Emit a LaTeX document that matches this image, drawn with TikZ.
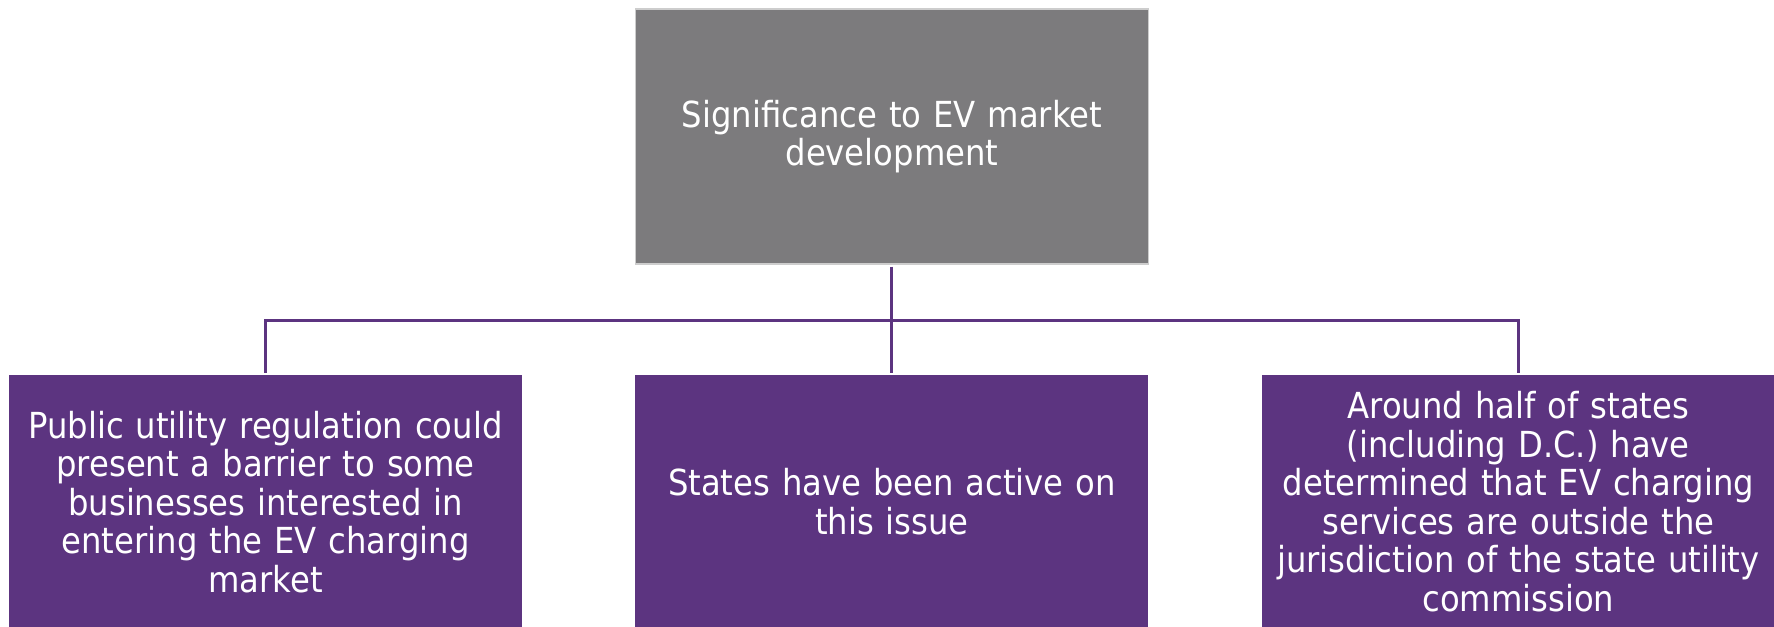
\documentclass[tikz,border=0pt]{standalone}
\usepackage{fontspec}
\setmainfont{DejaVu Sans Condensed}
\usepackage{tikz}
\usetikzlibrary{positioning, calc}
\definecolor{evpurple}{RGB}{92,52,128}
\definecolor{evgray}{RGB}{124,123,125}
\definecolor{evedge}{RGB}{205,205,205}
\tikzset{
  topblock/.style={rectangle, fill=evgray, draw=evedge, line width=0.3pt,
    text=white, minimum width=51.3mm, minimum height=25.5mm,
    text width=49mm, align=center, inner sep=0pt,
    font=\fontsize{10.2pt}{10.95pt}\selectfont},
  block/.style={rectangle, fill=evpurple, text=white,
    minimum width=51.3mm, minimum height=25.3mm, text width=51mm,
    align=center, inner xsep=0pt, inner ysep=-6mm,
    font=\fontsize{10.2pt}{10.95pt}\selectfont},
  line/.style={line width=0.3mm, color=evpurple}
}

\begin{document}
\begin{tikzpicture}[node distance=11mm and 11.2mm]
  \useasboundingbox (-89.2mm,13.65mm) rectangle (88.2mm,-49.05mm);
  \node[topblock] (top) at (0,0) {Significance to EV market\\development};
  \node[block, below=11mm of top] (mid) {States have been active on\\this issue};
  \node[block, left=of mid] (left) {Public utility regulation could\\present a barrier to some\\businesses interested in\\entering the EV charging\\market};
  \node[block, right=of mid] (right) {Around half of states\\(including D.C.) have\\determined that EV charging\\services are outside the\\jurisdiction of the state utility\\commission};
  \coordinate (bar) at ($(top.south)+(0,-5.55mm)$);
  \draw[line, shorten <=0.2mm, shorten >=0.2mm] (top.south) -- (mid.north);
  \draw[line, shorten <=0.2mm, shorten >=0.2mm] (left.north) |- (bar) -| (right.north);
\end{tikzpicture}
\end{document}
